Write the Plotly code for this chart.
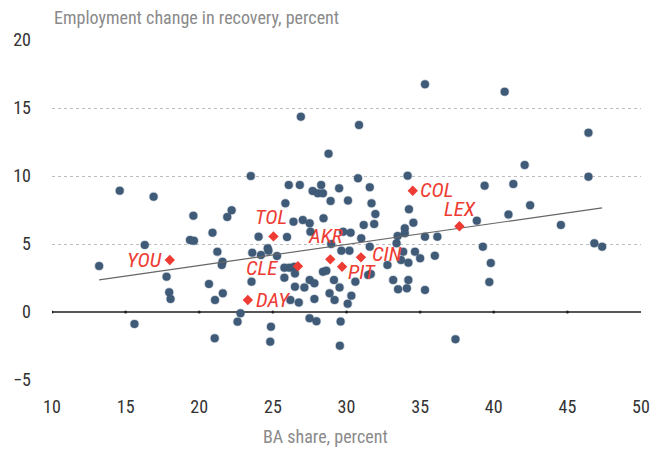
import plotly.graph_objects as go

# ---- data ----
ba_share = [13.2, 14.6, 16.9, 19.6, 19.37, 19.64, 16.3, 17.78, 17.96, 18.05, 15.6,
            26.9, 23.5, 26.08, 26.83, 27.7, 25.85, 22.2, 21.9, 26.4, 27.03, 27.5,
            20.9, 24.03, 25.96, 21.23, 23.6, 24.19, 24.65, 24.7, 25.28, 21.58, 21.53,
            25.78, 26.12, 26.46, 26.5, 25.78, 20.66, 23.55, 26.5, 27.14, 27.5, 21.6,
            21.07, 26.19, 26.76, 22.8, 22.6, 24.87, 27.49, 21.05, 24.82, 27.96, 29.6,
            29.55, 37.4, 30.08, 30.85, 28.78, 30.78, 34.15, 28.28, 28.05, 28.4, 29.5,
            31.58, 28.92, 30.1, 31.7, 31.96, 34.24, 28.44, 31.17, 31.88, 34.54, 33.96,
            33.96, 27.55, 29.77, 30.28, 31.0, 33.47, 29.65, 30.2, 28.96, 31.58, 33.4,
            33.85, 34.65, 32.78, 33.7, 34.2, 35.0, 28.4, 28.63, 31.47, 31.65, 27.82,
            29.15, 29.53, 30.6, 33.17, 34.2, 33.5, 34.1, 28.85, 30.33, 29.19, 27.82,
            35.33, 40.74, 46.43, 42.1, 46.43, 39.38, 41.33, 42.47, 41.0, 38.85, 44.56,
            35.33, 36.17, 39.26, 46.83, 47.36, 36.0, 39.8, 39.7, 35.33]
emp_change = [3.38, 8.92, 8.48, 7.08, 5.29, 5.24, 4.93, 2.6, 1.45, 0.96, -0.88,
              14.36, 10.0, 9.34, 9.34, 8.9, 7.99, 7.48, 6.99, 6.64, 6.76, 6.52,
              5.83, 5.54, 5.51, 4.43, 4.36, 4.19, 4.68, 4.5, 4.12, 3.70, 3.46,
              3.26, 3.26, 3.33, 2.84, 2.52, 2.06, 2.23, 1.86, 1.81, 2.35, 1.37,
              0.88, 0.88, 0.69, -0.1, -0.71, -1.08, -0.46, -1.93, -2.18, -0.68, -0.7,
              -2.48, -2.0, 0.6, 13.75, 11.64, 9.83, 10.02, 9.34, 8.73, 8.73, 9.1,
              9.17, 8.16, 8.19, 7.99, 7.2, 7.55, 6.89, 6.4, 6.47, 6.57, 6.15,
              5.79, 5.9, 5.9, 5.83, 5.42, 5.59, 4.51, 4.51, 5.0, 4.8, 5.05,
              4.43, 4.43, 3.46, 3.82, 3.63, 3.95, 2.96, 3.04, 2.72, 2.79, 2.11,
              2.35, 1.81, 2.23, 2.35, 2.35, 1.67, 1.74, 1.37, 1.2, 0.88, 0.96,
              16.74, 16.2, 13.18, 10.8, 9.95, 9.29, 9.41, 7.85, 7.16, 6.71, 6.4,
              5.54, 5.54, 4.8, 5.05, 4.8, 4.14, 3.6, 2.2, 1.62]

city_labels = ["YOU", "TOL", "CLE", "DAY", "AKR", "PIT", "CIN", "COL", "LEX"]
city_ba = [18.0, 25.04, 26.7, 23.3, 28.9, 29.7, 30.98, 34.5, 37.67]
city_emp = [3.82, 5.56, 3.36, 0.88, 3.87, 3.33, 4.02, 8.92, 6.30]

trend_intercept = 0.32
trend_slope = 0.155

x_ticks = [10, 15, 20, 25, 30, 35, 40, 45, 50]
y_ticks = [-5, 0, 5, 10, 15, 20]

FONT = "Roboto Condensed, Roboto, sans-serif"
DOT = "#3f5b78"
RED = "#ee3b33"

all_x = ba_share + city_ba
x0, x1 = min(all_x), max(all_x)

fig = go.Figure()

# zero-line tick dots
fig.add_trace(go.Scatter(
    x=x_ticks[:-1], y=[0] * (len(x_ticks) - 1), mode="markers",
    marker=dict(size=3, color="#222"), hoverinfo="skip", showlegend=False))

fig.add_trace(go.Scatter(
    x=ba_share, y=emp_change, mode="markers",
    marker=dict(size=8, color=DOT, line=dict(width=1.6, color="rgba(63,91,120,0.3)")),
    showlegend=False))

fig.add_trace(go.Scatter(
    x=[x0, x1], y=[trend_intercept + trend_slope * x0, trend_intercept + trend_slope * x1],
    mode="lines", line=dict(color="#666", width=1.2), hoverinfo="skip", showlegend=False))

fig.add_trace(go.Scatter(
    x=city_ba, y=city_emp, mode="markers",
    marker=dict(size=8, color=RED, symbol="diamond"), showlegend=False))

# label placement: (xanchor, xshift, yshift)
placement = {
    "YOU": ("right", -6, 0),
    "TOL": ("center", -2, 19),
    "CLE": ("right", -18, -2),
    "DAY": ("left", 6, 0),
    "AKR": ("center", -5, 23),
    "PIT": ("left", 4, -5),
    "CIN": ("left", 9, 3),
    "COL": ("left", 5, 1),
    "LEX": ("center", 1, 17),
}
for name, bx, ey in zip(city_labels, city_ba, city_emp):
    xa, xs, ys = placement[name]
    fig.add_annotation(x=bx, y=ey, xref="x", yref="y", text=name, showarrow=False,
                       xanchor=xa, yanchor="middle", xshift=xs, yshift=ys,
                       font=dict(family=FONT, size=21, color=RED, style="italic"))

fig.add_annotation(x=0, xref="paper", y=1, yref="paper", xanchor="left", yanchor="bottom",
                   yshift=10, text="Employment change in recovery, percent", showarrow=False,
                   font=dict(family=FONT, size=18, color="#8a8a8a"))
fig.add_annotation(x=0.465, xref="paper", y=0, yref="paper", xanchor="center", yanchor="top",
                   yshift=-44, text="BA share, percent", showarrow=False,
                   font=dict(family=FONT, size=18, color="#8a8a8a"))

# the page body has an 8px default margin, so the figure is sized to fit the window
fig.update_layout(
    width=659, height=446,
    margin=dict(l=44, r=26, t=32, b=74),
    paper_bgcolor="white", plot_bgcolor="white",
    font=dict(family=FONT, size=18, color="#333"),
    xaxis=dict(range=[10, 50], tickvals=x_ticks, showgrid=False, zeroline=False,
               showline=False, ticks="", ticklabelstandoff=14, automargin=False,
               tickfont=dict(family=FONT, size=18, color="#333")),
    yaxis=dict(range=[-5, 20], tickvals=y_ticks, showgrid=True, gridcolor="#bdbdbd",
               griddash="3px,3px", gridwidth=1, zeroline=True, zerolinecolor="#555",
               zerolinewidth=1.5, showline=False, ticks="", ticklabelstandoff=20,
               automargin=False,
               tickfont=dict(family=FONT, size=18, color="#333")),
)

fig.write_html("out.html")
